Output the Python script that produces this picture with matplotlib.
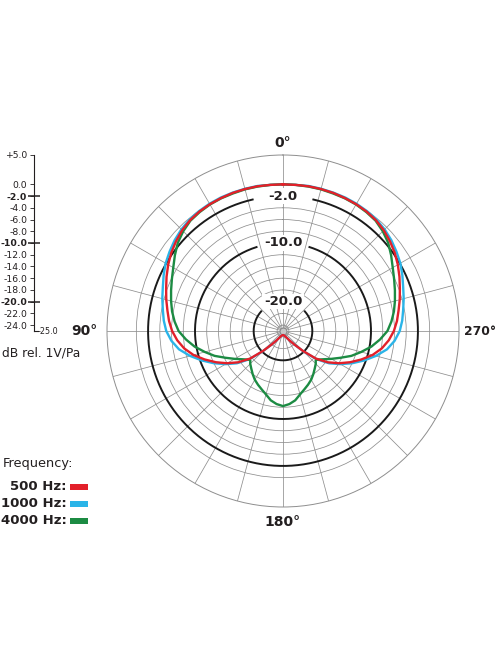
import numpy as np
import matplotlib
matplotlib.use('Agg')
import matplotlib.pyplot as plt
from matplotlib.patches import Rectangle
from matplotlib.transforms import blended_transform_factory

plt.rcParams['font.family'] = ['DejaVu Sans']

W, H = 496, 664
DPI = 100
INK = '#231f20'
GRID = '#8e8e8e'

# polar response in dB rel. 1V/Pa, one half of the (symmetric) pattern
angles = [0, 5, 10, 15, 20, 25, 30, 35, 40, 45, 50, 55, 60, 65, 70, 75, 80, 85, 90,
          95, 100, 105, 110, 115, 120, 125, 130, 135, 140, 145, 150, 155, 160, 165,
          170, 175, 180]
db_500 = [0.0, 0.0, 0.05, 0.05, 0.05, 0.0, -0.05, -0.15, -0.35, -0.7, -1.2, -1.75,
          -2.4, -3.1, -3.8, -4.4, -5.0, -5.5, -6.1, -6.9, -7.9, -9.2, -10.8, -12.4,
          -14.0, -15.7, -17.7, -20.2, -22.0, -23.0, -23.6, -23.9, -24.1, -24.2,
          -24.25, -24.3, -24.3]
db_1000 = [0.0, 0.0, 0.1, 0.1, 0.1, 0.1, 0.05, -0.05, -0.2, -0.5, -0.9, -1.4,
           -1.9, -2.55, -3.2, -3.7, -4.2, -4.6, -5.1, -5.9, -7.0, -8.6, -10.3, -12.0,
           -13.7, -15.4, -17.5, -20.1, -22.0, -23.0, -23.6, -23.9, -24.1, -24.2,
           -24.25, -24.3, -24.3]
angles_4k = [0, 5, 10, 15, 20, 25, 30, 35, 40, 45, 50, 55, 60, 65, 70, 75, 80, 85, 90,
             95, 100, 105, 110, 115, 120, 125, 130, 132, 135, 140, 145, 150, 155, 160,
             165, 170, 175, 180]
db_4000 = [0.0, 0.0, 0.0, 0.0, -0.05, -0.05, -0.1, -0.25, -0.45, -0.95, -1.6, -2.5,
           -3.4, -4.1, -4.7, -5.25, -5.8, -6.45, -7.2, -8.4, -9.7, -11.2, -12.6, -14.2,
           -15.5, -16.6, -17.4, -17.5, -17.1, -16.6, -16.0, -15.4, -14.9, -14.4,
           -13.8, -13.0, -12.5, -12.2]

freq_labels = ['500 Hz:', '1000 Hz:', '4000 Hz:']
freq_colors = ['#e3202a', '#2ab4e8', '#1c8b43']

r_min, r_max = -25, 5
scale_ticks = [5] + list(range(0, -25, -2))
bold_rings = [-2, -10, -20]
thin_rings = [r for r in range(-24, 1, 2) if r not in bold_rings]
degree_labels = {0: '0°', 90: '90°', 180: '180°', 270: '270°'}


def px_box(x0, y0, w, h):
    # figure-fraction rect from pixel box (top-left origin)
    return [x0 / W, 1 - (y0 + h) / H, w / W, h / H]


def mirror(a, v):
    a = np.asarray(a, float)
    v = np.asarray(v, float)
    th = np.concatenate([a, 360 - a[-2::-1]])
    return np.radians(th), np.concatenate([v, v[-2::-1]])


fig = plt.figure(figsize=(W / DPI, H / DPI), dpi=DPI)

# polar chart
ax = fig.add_axes(px_box(107, 155, 352, 352), projection='polar')
ax.set_theta_zero_location('N')
ax.set_theta_direction(1)
ax.set_ylim(r_min, r_max)
ax.set_yticks(thin_rings)
ax.set_yticklabels([])
ax.set_xticks(np.radians(np.arange(0, 360, 15)))
ax.set_xticklabels([])
ax.tick_params(length=0)
ax.grid(True, color=GRID, lw=0.55)
ax.spines['polar'].set_color(GRID)
ax.spines['polar'].set_linewidth(0.7)

gaps = {-2: 13, -10: 17.5, -20: 48}
for r in bold_rings:
    t = np.radians(np.linspace(gaps[r], 360 - gaps[r], 400))
    ax.plot(t, np.full_like(t, r), color='#1a1a1a', lw=1.4, zorder=2)
    ax.text(0, r, f'{r:.1f}', ha='center', va='center', fontsize=9.5,
            fontweight='bold', color=INK, zorder=2.5,
            bbox=dict(boxstyle='square,pad=0.1', fc='white', ec='none'))

ax.scatter([0], [r_min], s=24, color='#c8c8c8', edgecolor='#808080', lw=0.6, zorder=2.6)

series = [(angles, db_1000, freq_colors[1]),
          (angles_4k, db_4000, freq_colors[2]),
          (angles, db_500, freq_colors[0])]
for i, (a, v, c) in enumerate(series):
    th, rr = mirror(a, v)
    ax.plot(th, rr, color=c, lw=1.7, zorder=3 + i, solid_joinstyle='round')

# degree labels outside the ring
ax.text(0, r_max + 2.0, degree_labels[0], ha='center', va='center', fontsize=10,
        fontweight='bold', color=INK, clip_on=False)
ax.text(np.radians(90), r_max + 1.7, degree_labels[90], ha='right', va='center',
        fontsize=10, fontweight='bold', color=INK, clip_on=False)
ax.text(np.radians(270), r_max + 0.9, degree_labels[270], ha='left', va='center',
        fontsize=8.8, fontweight='bold', color=INK, clip_on=False)
ax.text(np.radians(180), r_max + 2.6, degree_labels[180], ha='center', va='center',
        fontsize=10, fontweight='bold', color=INK, clip_on=False)

# dB scale on the left
sax = fig.add_axes(px_box(34, 155, 4, 176))
sax.set_ylim(r_min, r_max)
sax.set_xlim(0, 1)
sax.set_xticks([])
sax.patch.set_alpha(0)
for s in ['top', 'right']:
    sax.spines[s].set_visible(False)
for s in ['left', 'bottom']:
    sax.spines[s].set_color(INK)
    sax.spines[s].set_linewidth(0.8)
sax.yaxis.remove_overlapping_locs = False
sax.set_yticks(scale_ticks)
sax.set_yticklabels(['+5.0' if v > 0 else f'{v:.1f}' for v in scale_ticks])
sax.tick_params(axis='y', direction='out', length=3, width=0.6, labelsize=6.7,
                pad=2, colors=INK)
for lbl, v in zip(sax.get_yticklabels(), scale_ticks):
    if v in bold_rings:
        lbl.set_fontweight('bold')
sax.set_yticks(bold_rings, minor=True)
sax.tick_params(axis='y', which='minor', direction='inout', length=9, width=1.1,
                colors=INK)
tr = blended_transform_factory(sax.transAxes, sax.transData)
sax.text(1.0, r_min, '-25.0', transform=tr, ha='left', va='center', fontsize=5.8,
         color=INK)

fig.text(2 / W, 1 - 353 / H, 'dB rel. 1V/Pa', ha='left', va='center', fontsize=8.8,
         color=INK)

# frequency key
fig.text(3 / W, 1 - 467 / H, 'Frequency:', ha='left', va='baseline', fontsize=9.3,
         color=INK)
for lbl, c, base in zip(freq_labels, freq_colors, [490, 507, 524]):
    fig.text(67 / W, 1 - base / H, lbl, ha='right', va='baseline', fontsize=9.5,
             fontweight='bold', color=INK)
    fig.add_artist(Rectangle((70 / W, 1 - base / H), 18 / W, 6 / H,
                             transform=fig.transFigure, color=c, lw=0))

fig.savefig('out.png', dpi=DPI)
